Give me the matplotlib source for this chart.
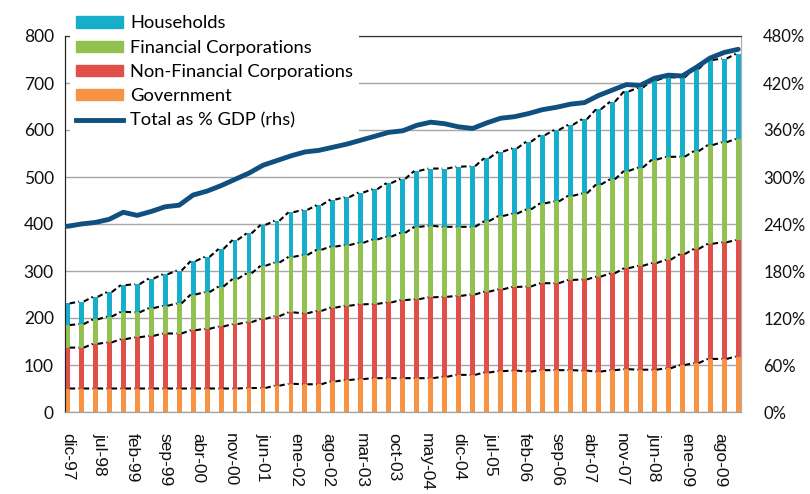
#!/usr/bin/env python3
"""
Debt by sector (stacked bars, quarterly) with total debt as % of GDP on the right axis.
"""

import numpy as np
import matplotlib
matplotlib.use("Agg")
import matplotlib.pyplot as plt
from matplotlib.patches import Patch
from matplotlib.lines import Line2D
from matplotlib.ticker import FuncFormatter

# quarterly observations, dic-97 .. dic-09 (month offset from dic-97)
months = list(range(0, 145, 3))

government = [50, 50, 50, 50, 50, 50, 50, 50, 50, 50, 50, 50, 50, 51, 51, 56, 60,
              59, 59, 65, 68, 70, 72, 72, 72, 72, 72, 75, 79, 79, 84, 87, 88,
              86, 89, 89, 89, 88, 86, 89, 91, 90, 90, 93, 100, 104, 113, 113, 118]
non_financial = [87, 87, 95, 98, 105, 109, 112, 117, 117, 124, 127, 132, 137, 140, 147, 148, 152,
                 151, 156, 157, 158, 159, 158, 161, 166, 168, 172, 170, 168, 171, 172, 174, 178,
                 181, 185, 185, 192, 194, 202, 206, 215, 221, 227, 231, 236, 243, 245, 248, 248]
financial = [48, 50, 52, 55, 58, 53, 59, 59, 64, 76, 78, 85, 96, 104, 113, 114, 118,
             124, 130, 130, 129, 131, 137, 140, 143, 154, 152, 149, 147, 144, 150, 156, 156,
             164, 170, 174, 179, 183, 196, 200, 207, 209, 220, 219, 207, 208, 210, 213, 215]
households = [46, 48, 48, 52, 57, 60, 63, 67, 70, 71, 75, 80, 83, 85, 87, 89, 95,
              96, 95, 100, 102, 107, 107, 114, 115, 119, 122, 124, 128, 129, 134, 137, 139,
              144, 145, 152, 151, 158, 160, 165, 169, 170, 169, 169, 169, 175, 181, 178, 181]
total_pct_gdp = [237, 240, 242, 246, 255, 251, 256, 262, 264, 277, 282, 289, 297, 305, 315, 321, 327,
                 332, 334, 338, 342, 347, 352, 357, 359, 366, 370, 368, 364, 362, 369, 375, 377,
                 381, 386, 389, 393, 395, 404, 411, 418, 417, 426, 430, 429, 440, 452, 459, 463]

tick_months = list(range(0, 141, 7))
tick_labels = ["dic-97", "jul-98", "feb-99", "sep-99", "abr-00", "nov-00", "jun-01",
               "ene-02", "ago-02", "mar-03", "oct-03", "may-04", "dic-04", "jul-05",
               "feb-06", "sep-06", "abr-07", "nov-07", "jun-08", "ene-09", "ago-09"]

C_HH = "#17AECB"
C_FIN = "#93C150"
C_NFC = "#E05048"
C_GOV = "#F79443"
C_LINE = "#10507F"


def series_lines(ax, x, top, width):
    """Excel style series lines: dashed segments between neighbouring bar tops."""
    x = np.asarray(x, dtype=float)
    top = np.asarray(top, dtype=float)
    xs, ys = [], []
    for i in range(len(x) - 1):
        xs += [x[i] + width / 2, x[i + 1] - width / 2, np.nan]
        ys += [top[i], top[i + 1], np.nan]
    ax.plot(xs, ys, color="black", lw=1.5, dashes=(2.6, 1.5), zorder=4,
            solid_capstyle="butt", dash_capstyle="butt")


def main():
    fig = plt.figure(figsize=(8.1, 4.94), dpi=100)
    ax = fig.add_axes([65 / 810, 1 - 412 / 494, 676 / 810, 376 / 494])
    ax2 = ax.twinx()

    x = np.array(months, dtype=float)
    width = 1.05
    gov = np.array(government, dtype=float)
    nfc = np.array(non_financial, dtype=float)
    fin = np.array(financial, dtype=float)
    hh = np.array(households, dtype=float)

    ax.bar(x, gov, width, color=C_GOV, zorder=3)
    ax.bar(x, nfc, width, bottom=gov, color=C_NFC, zorder=3)
    ax.bar(x, fin, width, bottom=gov + nfc, color=C_FIN, zorder=3)
    ax.bar(x, hh, width, bottom=gov + nfc + fin, color=C_HH, zorder=3)

    for level in [gov, gov + nfc, gov + nfc + fin, gov + nfc + fin + hh]:
        series_lines(ax, x, level, width)

    ax2.plot(x, total_pct_gdp, color=C_LINE, lw=3.5, solid_capstyle="round", zorder=5)

    ax.set_xlim(-0.5, 144.6)
    ax.set_ylim(0, 800)
    ax.set_yticks(range(0, 801, 100))
    ax2.set_ylim(0, 480)
    ax2.set_yticks(range(0, 481, 60))
    ax2.yaxis.set_major_formatter(FuncFormatter(lambda v, p: f"{v:.0f}%"))

    ax.set_xticks(tick_months)
    ax.set_xticklabels(tick_labels, rotation=270, fontsize=12.5,
                       family="Liberation Sans", color="#111111")
    ax.tick_params(axis="x", length=0, pad=15)
    ax.tick_params(axis="y", length=0, pad=8, labelsize=12.5, labelcolor="#111111")
    ax2.tick_params(axis="y", length=0, pad=16, labelsize=12, labelcolor="#111111")
    for lab in ax.get_yticklabels() + ax2.get_yticklabels():
        lab.set_family("Lato")

    ax.grid(axis="y", color="#A6A6A6", lw=1.0, zorder=0)
    ax.set_axisbelow(True)
    for a in (ax, ax2):
        a.spines["left"].set_color("#222222")
        a.spines["bottom"].set_color("#A0A0A0")
        a.spines["right"].set_color("#B0B0B0")
        a.spines["top"].set_color("#333333")

    handles = [Patch(color=C_HH), Patch(color=C_FIN), Patch(color=C_NFC), Patch(color=C_GOV),
               Line2D([], [], color=C_LINE, lw=3.5)]
    labels = ["Households", "Financial Corporations", "Non-Financial Corporations",
              "Government", "Total as % GDP (rhs)"]
    leg = fig.legend(handles, labels, loc="upper left", bbox_to_anchor=(70 / 810, 1 - 10 / 494),
                     frameon=True, fancybox=False, edgecolor="none", facecolor="white",
                     framealpha=1, prop={"family": "Lato", "size": 13.2},
                     handlelength=2.6, handleheight=0.55, handletextpad=0.4,
                     labelspacing=0.45, borderpad=0.3, borderaxespad=0)
    leg.set_zorder(10)

    fig.savefig("out.png", dpi=100)
    plt.close(fig)


if __name__ == "__main__":
    main()
